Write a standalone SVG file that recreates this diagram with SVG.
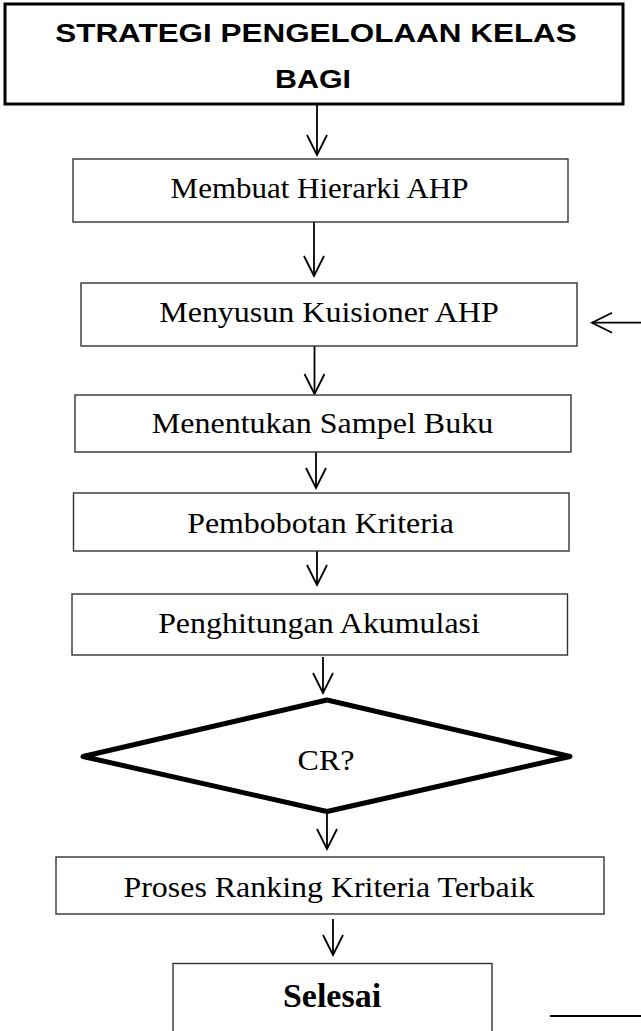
<svg xmlns="http://www.w3.org/2000/svg" width="641" height="1031" viewBox="0 0 641 1031">
<style>
.box{fill:#fff;stroke:#333;stroke-width:1.4}
.title{fill:#fff;stroke:#000;stroke-width:3}
.dia{fill:#fff;stroke:#000;stroke-width:5;stroke-linejoin:round}
.t{font-family:"Liberation Serif","Times New Roman",serif;font-size:28.5px;fill:#000;text-anchor:middle}
.tb{font-family:"Liberation Serif","Times New Roman",serif;font-size:34px;font-weight:bold;fill:#000;text-anchor:middle}
.h{font-family:"Liberation Sans",Arial,sans-serif;font-size:25px;font-weight:bold;fill:#000;text-anchor:middle}
.c{stroke:#000;stroke-width:1.8;fill:none}
</style>
<defs>
<marker id="arr" markerUnits="userSpaceOnUse" markerWidth="24" markerHeight="24" refX="20" refY="10" orient="auto" viewBox="-2 -2 24 24">
<path d="M0,0 L20,10 L0,20" fill="none" stroke="#000" stroke-width="1.8"/>
</marker>
</defs>
<g id="connectors">
<line class="c" x1="317" y1="105" x2="317" y2="155" marker-end="url(#arr)"/>
<line class="c" x1="314" y1="222" x2="314" y2="276" marker-end="url(#arr)"/>
<line class="c" x1="314.5" y1="346" x2="314.5" y2="394" marker-end="url(#arr)"/>
<line class="c" x1="316" y1="452" x2="316" y2="488" marker-end="url(#arr)"/>
<line class="c" x1="317" y1="549" x2="317" y2="585" marker-end="url(#arr)"/>
<line class="c" x1="323" y1="657" x2="323" y2="693" marker-end="url(#arr)"/>
<line class="c" x1="327" y1="812" x2="327" y2="849" marker-end="url(#arr)"/>
<line class="c" x1="333" y1="919" x2="333" y2="955" marker-end="url(#arr)"/>
<line class="c" x1="645" y1="322.7" x2="592" y2="322.7" marker-end="url(#arr)"/>
<line class="c" x1="550" y1="1016" x2="645" y2="1016"/>
</g>
<g id="start">
<rect class="title" x="5" y="4" width="618" height="100"/>
<text class="h" transform="translate(316 42) scale(1.258 1)">STRATEGI PENGELOLAAN KELAS</text>
<text class="h" transform="translate(313 88) scale(1.216 1)">BAGI</text>
</g>
<g id="n1">
<rect class="box" x="73" y="159" width="495" height="63"/>
<text class="t" transform="translate(319.5 198) scale(1.088 1)">Membuat Hierarki AHP</text>
</g>
<g id="n2">
<rect class="box" x="81" y="283" width="496" height="63"/>
<text class="t" transform="translate(329 322) scale(1.123 1)">Menyusun Kuisioner AHP</text>
</g>
<g id="n3">
<rect class="box" x="75" y="395" width="496" height="57"/>
<text class="t" transform="translate(322.5 433) scale(1.123 1)">Menentukan Sampel Buku</text>
</g>
<g id="n4">
<rect class="box" x="73.5" y="493" width="495.5" height="58"/>
<text class="t" transform="translate(320.5 533) scale(1.12 1)">Pembobotan Kriteria</text>
</g>
<g id="n5">
<rect class="box" x="72" y="594" width="495.5" height="61"/>
<text class="t" transform="translate(319 633) scale(1.12 1)">Penghitungan Akumulasi</text>
</g>
<g id="decision">
<polygon class="dia" points="327,700 570,756.5 327,811.5 83,756.5"/>
<text class="t" transform="translate(326 770) scale(1.123 1)">CR?</text>
</g>
<g id="n6">
<rect class="box" x="56" y="857" width="548" height="57"/>
<text class="t" transform="translate(329 897) scale(1.12 1)">Proses Ranking Kriteria Terbaik</text>
</g>
<g id="end">
<rect class="box" x="173" y="963.5" width="319" height="80"/>
<text class="tb" x="332" y="1007">Selesai</text>
</g>
</svg>
